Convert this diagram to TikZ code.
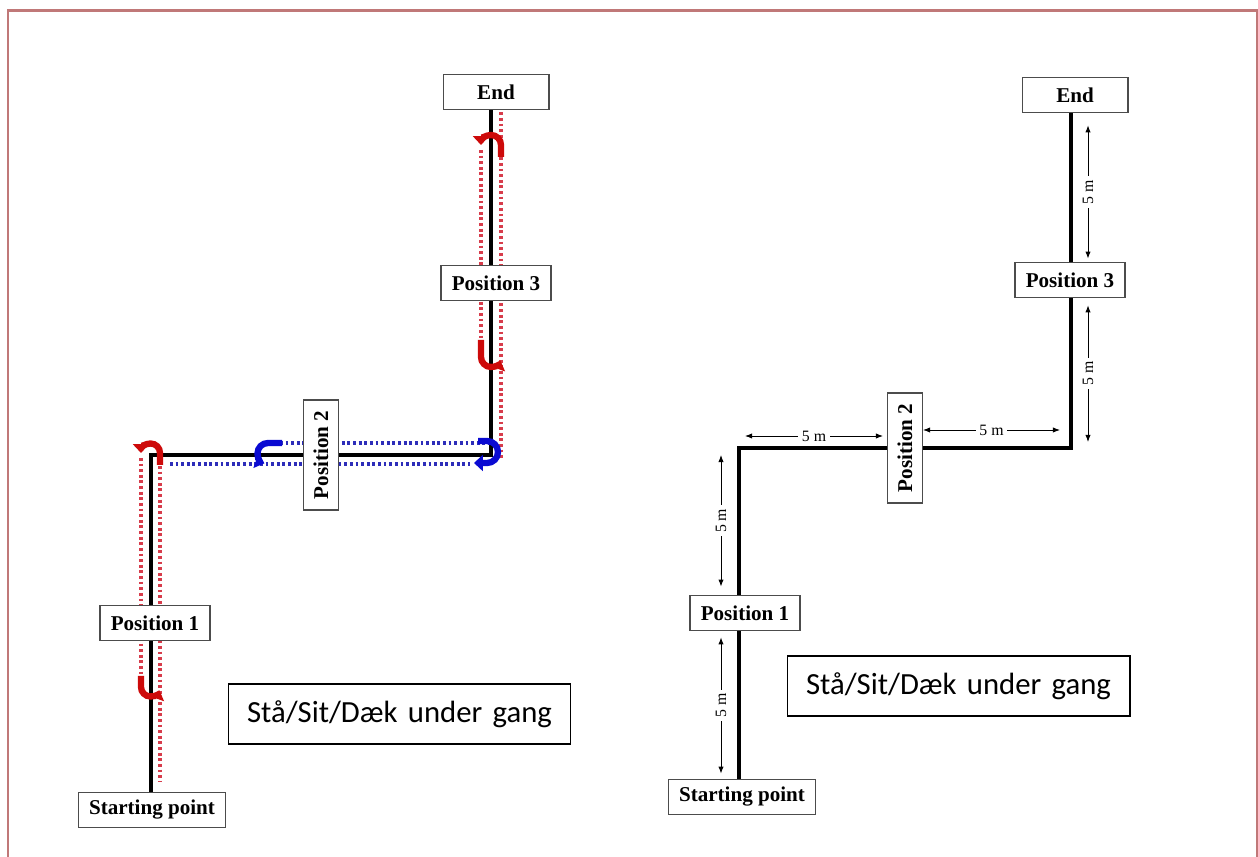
\documentclass[tikz,border=0pt]{standalone}
\usepackage{fontspec}
\setmainfont{Liberation Serif}
\newfontfamily\calibri{Carlito}
\usepackage{xcolor}
\usetikzlibrary{arrows.meta, calc, backgrounds}

\definecolor{framered}{RGB}{192,120,120}
\definecolor{turnred}{RGB}{205,10,10}
\definecolor{dotred}{RGB}{215,60,75}
\definecolor{turnblue}{RGB}{10,10,210}
\definecolor{dotblue}{RGB}{45,45,185}

\tikzset{
    posbox/.style={draw=black!70, line width=0.9pt, fill=white,
        font=\bfseries\fontsize{12}{14}\selectfont,
        minimum height=20pt, minimum width=60pt, inner xsep=6pt},
    route/.style={line width=2.2pt},
    reddots/.style={draw=dotred, line width=2pt, dash pattern=on 1.6pt off 1.6pt},
    bluedots/.style={draw=dotblue, line width=2pt, dash pattern=on 1.6pt off 1.6pt},
    redturn/.style={draw=turnred, line width=3.6pt, -{Triangle[length=5pt,width=9pt]}},
    blueturn/.style={draw=turnblue, line width=3.6pt, -{Triangle[length=5pt,width=9pt]}},
    dimarrow/.style={{Latex[length=4pt,width=3pt]}-{Latex[length=4pt,width=3pt]}, line width=0.5pt},
    dimlabel/.style={midway, fill=white, inner sep=2pt, font=\fontsize{9}{10}\selectfont},
    textbox/.style={draw, line width=0.6pt, text width=6.1cm, align=left,
        inner xsep=0.38cm, minimum height=1.2cm, font=\calibri\fontsize{17.5}{20}\selectfont}
}

\begin{document}
\begin{tikzpicture}[x=0.02cm, y=0.02cm]
    \useasboundingbox (0,0) rectangle (1258,857);
    \draw[framered, line width=1.7pt] (8,-10) -- (8,846) -- (1257,846) -- (1257,-10);

    % left: the walk with turns
    \coordinate (cornerA) at (151,402);
    \coordinate (cornerB) at (491,402);
    \node[posbox] (endL) at (496,765) {End};
    \node[posbox] (pos3L) at (496,574) {Position 3};
    \node[posbox, rotate=90] (pos2L) at (321,402) {Position 2};
    \node[posbox] (pos1L) at (155,234) {Position 1};
    \node[posbox] (startL) at (152,47) {Starting point};

    \begin{scope}[on background layer]
        \draw[route] (startL.north -| cornerA) -- (cornerA) -- (cornerB) -- (endL.south -| cornerB);
        \draw[reddots] ($(cornerA)+(-10,-3)$) -- ($(cornerA)+(-10,-222)$);
        \draw[reddots] ($(cornerA)+(9,-11)$) -- ($(startL.north -| cornerA)+(9,10)$);
        \draw[reddots] ($(cornerB)+(-10,305)$) -- ($(cornerB)+(-10,113)$);
        \draw[reddots] ($(endL.south -| cornerB)+(10,-2)$) -- ($(cornerB)+(10,-5)$);
        \draw[bluedots] ($(cornerA)+(129,12)$) -- ($(cornerB)+(-1,12)$);
        \draw[bluedots] ($(cornerA)+(19,-9)$) -- ($(cornerB)+(-21,-9)$);
    \end{scope}

    \draw[redturn] (160,392) -- (160,404) arc[start angle=0, end angle=180, radius=9.5];
    \draw[redturn] (141,181) -- (141,170) arc[start angle=180, end angle=340, radius=9.5];
    \draw[redturn] (501,700) -- (501,712) arc[start angle=0, end angle=180, radius=10];
    \draw[redturn] (481,517) -- (481,500) arc[start angle=180, end angle=340, radius=10];
    \draw[blueturn] (282,414) -- (268,414) arc[start angle=90, end angle=250, radius=10.5];
    \draw[blueturn] (478,416) -- (487,416) arc[start angle=90, end angle=-90, radius=11] -- (474,394);

    \node[textbox] (cmdL) at (399.5,143) {\mbox{Stå/Sit/Dæk under gang}};

    % right: the same walk with distances
    \coordinate (cornerC) at (739,409);
    \coordinate (cornerD) at (1071,409);
    \node[posbox] (endR) at (1075,762) {End};
    \node[posbox] (pos3R) at (1070,577) {Position 3};
    \node[posbox, rotate=90] (pos2R) at (905,409) {Position 2};
    \node[posbox] (pos1R) at (745,244) {Position 1};
    \node[posbox] (startR) at (742,60) {Starting point};

    \begin{scope}[on background layer]
        \draw[route] (startR.north -| cornerC) -- (cornerC) -- (cornerD) -- (endR.south -| cornerD);
    \end{scope}

    \draw[dimarrow] ($(endR.south -| cornerD)+(17,-12)$) -- node[dimlabel, rotate=90] {5 m} ($(pos3R.north -| cornerD)+(17,3)$);
    \draw[dimarrow] ($(pos3R.south -| cornerD)+(17,-7)$) -- node[dimlabel, rotate=90] {5 m} ($(cornerD)+(17,6)$);
    \draw[dimarrow] ($(cornerC)+(6,12)$) -- node[dimlabel] {5 m} ($(pos2R)+(-22,12)$);
    \draw[dimarrow] ($(pos2R)+(18,18)$) -- node[dimlabel] {5 m} ($(cornerD)+(-11,18)$);
    \draw[dimarrow] ($(cornerC)+(-18,-7)$) -- node[dimlabel, rotate=90] {5 m} ($(pos1R.north -| cornerC)+(-18,8)$);
    \draw[dimarrow] ($(pos1R.south -| cornerC)+(-18,-6)$) -- node[dimlabel, rotate=90] {5 m} ($(startR.north -| cornerC)+(-18,5)$);

    \node[textbox] (cmdR) at (958.5,171) {\mbox{Stå/Sit/Dæk under gang}};
\end{tikzpicture}
\end{document}
